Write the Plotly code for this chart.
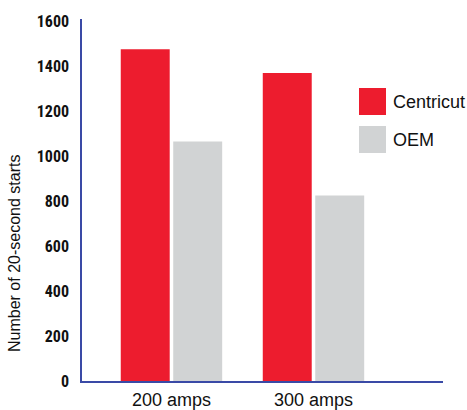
import plotly.graph_objects as go

categories = ["200 amps", "300 amps"]
series_names = ["Centricut", "OEM"]
centricut = [1475, 1370]
oem = [1065, 825]
y_ticks = [0, 200, 400, 600, 800, 1000, 1200, 1400, 1600]
y_title = "Number of 20-second starts"

RED = "#ED1C2E"
GRAY = "#D1D3D4"
AXIS = "#3A4AA6"
colors = [RED, GRAY]

fig = go.Figure()
for name, vals, col in zip(series_names, [centricut, oem], colors):
    fig.add_trace(go.Bar(x=categories, y=vals, name=name, marker_color=col,
                         marker_line_width=0, showlegend=False))

W, H = 467, 410
L, R, T, B = 82, 24, 19, 29

fig.update_layout(
    width=W, height=H,
    margin=dict(l=L, r=R, t=T, b=B, pad=0, autoexpand=False),
    paper_bgcolor="white", plot_bgcolor="white",
    barmode="group", bargap=0.261, bargroupgap=0.067,
    font=dict(family="Liberation Sans, Arial, sans-serif", color="#111111"),
)
fig.update_xaxes(
    type="category", range=[-0.630, 1.912], automargin=False,
    showline=True, linecolor=AXIS, linewidth=1.5,
    showgrid=False, zeroline=False, ticks="",
    tickfont=dict(size=18, family="Liberation Sans, Arial, sans-serif", color="#111111"),
    ticklabelstandoff=2,
)
fig.update_yaxes(
    range=[0, 1610], tickvals=y_ticks, automargin=False,
    showline=True, linecolor=AXIS, linewidth=1.5,
    showgrid=False, zeroline=False, ticks="",
    tickfont=dict(size=16, family="Roboto Condensed, Liberation Sans Narrow, Liberation Sans, Arial, sans-serif",
                  color="#111111", weight="bold"),
    ticklabelstandoff=8,
)

pw = W - L - R
ph = H - T - B
def px_x(x):
    return (x - L) / pw
def px_y(y):
    return (H - B - y) / ph

# y-axis title
fig.add_annotation(text=y_title, xref="paper", yref="paper",
                   x=px_x(15), y=px_y(254), textangle=-90, showarrow=False,
                   font=dict(size=16, family="Liberation Sans, Arial, sans-serif", color="#111111"),
                   xanchor="center", yanchor="middle")

# legend (large swatches)
legend_rows = [(88, 115, 102), (126, 153, 140)]
for name, col, (y0, y1, yc) in zip(series_names, colors, legend_rows):
    fig.add_shape(type="rect", xref="paper", yref="paper",
                  x0=px_x(359), x1=px_x(386), y0=px_y(y1), y1=px_y(y0),
                  fillcolor=col, line_width=0)
    fig.add_annotation(text=name, xref="paper", yref="paper",
                       x=px_x(391), y=px_y(yc), showarrow=False,
                       xanchor="left", yanchor="middle",
                       font=dict(size=18, family="Liberation Sans, Arial, sans-serif", color="#111111"))

fig.write_html("out.html",
               config={"displayModeBar": False},
               post_script="document.body.style.margin='0';document.body.style.overflow='hidden';")
